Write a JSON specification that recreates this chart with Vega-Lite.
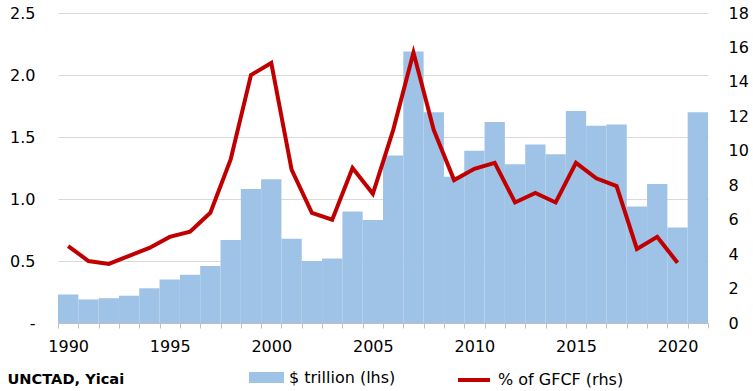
{
  "$schema": "https://vega.github.io/schema/vega-lite/v6.json",
  "width": 650,
  "height": 310,
  "padding": {"left": 7, "top": 5, "right": 5, "bottom": 0},
  "autosize": {"type": "pad"},
  "config": {"font": "DejaVu Sans", "view": {"stroke": null}},
  "data": {"values": [
    {"year": 1990, "value": 0.23, "pct": 4.47},
    {"year": 1991, "value": 0.19, "pct": 3.6},
    {"year": 1992, "value": 0.20, "pct": 3.43},
    {"year": 1993, "value": 0.22, "pct": 3.9},
    {"year": 1994, "value": 0.28, "pct": 4.36},
    {"year": 1995, "value": 0.35, "pct": 5.0},
    {"year": 1996, "value": 0.39, "pct": 5.3},
    {"year": 1997, "value": 0.46, "pct": 6.4},
    {"year": 1998, "value": 0.67, "pct": 9.5},
    {"year": 1999, "value": 1.08, "pct": 14.4},
    {"year": 2000, "value": 1.16, "pct": 15.1},
    {"year": 2001, "value": 0.68, "pct": 8.9},
    {"year": 2002, "value": 0.50, "pct": 6.4},
    {"year": 2003, "value": 0.52, "pct": 6.0},
    {"year": 2004, "value": 0.90, "pct": 9.0},
    {"year": 2005, "value": 0.83, "pct": 7.5},
    {"year": 2006, "value": 1.35, "pct": 11.2},
    {"year": 2007, "value": 2.19, "pct": 15.7},
    {"year": 2008, "value": 1.70, "pct": 11.2},
    {"year": 2009, "value": 1.18, "pct": 8.3},
    {"year": 2010, "value": 1.39, "pct": 8.95},
    {"year": 2011, "value": 1.62, "pct": 9.3},
    {"year": 2012, "value": 1.28, "pct": 7.0},
    {"year": 2013, "value": 1.44, "pct": 7.55},
    {"year": 2014, "value": 1.36, "pct": 7.0},
    {"year": 2015, "value": 1.71, "pct": 9.3},
    {"year": 2016, "value": 1.59, "pct": 8.4},
    {"year": 2017, "value": 1.60, "pct": 7.95},
    {"year": 2018, "value": 0.94, "pct": 4.3},
    {"year": 2019, "value": 1.12, "pct": 5.0},
    {"year": 2020, "value": 0.77, "pct": 3.5},
    {"year": 2021, "value": 1.70, "pct": null}
  ]},
  "layer": [
    {
      "mark": {"type": "bar"},
      "encoding": {
        "x": {"field": "year", "type": "ordinal", "scale": {"paddingInner": 0, "paddingOuter": 0},
          "axis": {"title": "UNCTAD, Yicai", "titleFontSize": 14.6, "titleFontWeight": "bold", "titleColor": "#000000", "titleAnchor": "start", "titleAlign": "left", "titleBaseline": "alphabetic", "titleX": -51, "titleY": 60,
            "labelAngle": 0, "labelFontSize": 16, "labelColor": "#000000", "labelExpr": "datum.value % 5 == 0 ? datum.label : ''", "tickBand": "extent", "domainColor": "#bfbfbf", "tickColor": "#bfbfbf", "tickSize": 5, "labelPadding": 10, "grid": false}},
        "y": {"field": "value", "type": "quantitative", "scale": {"domain": [0, 2.5]},
          "axis": {"title": null, "values": [0, 0.5, 1, 1.5, 2, 2.5], "labelExpr": "datum.value == 0 ? '-' : format(datum.value, '.1f')", "labelFontSize": 16, "labelColor": "#000000", "ticks": false, "domain": false, "labelPadding": 23, "gridColor": "#d9d9d9", "gridWidth": 1.2}},
        "fill": {"datum": "$ trillion (lhs)", "type": "nominal", "scale": {"range": ["#9fc3e7"]},
          "legend": {"title": null, "orient": "none", "legendX": 191, "legendY": 347, "padding": 0, "labelFontSize": 16, "labelColor": "#000000", "labelOffset": 5, "symbolType": "M-1,-0.31H1V0.31H-1Z", "symbolSize": 1225, "symbolStrokeWidth": 0}}
      }
    },
    {
      "mark": {"type": "line", "strokeWidth": 4, "color": "#c00000"},
      "encoding": {
        "x": {"field": "year", "type": "ordinal"},
        "y": {"field": "pct", "type": "quantitative", "scale": {"domain": [0, 18]},
          "axis": {"title": null, "orient": "right", "values": [0, 2, 4, 6, 8, 10, 12, 14, 16, 18], "labelFontSize": 16, "labelColor": "#000000", "ticks": false, "domain": false, "grid": false, "labelPadding": 20}},
        "stroke": {"datum": "% of GFCF (rhs)", "type": "nominal", "scale": {"range": ["#c00000"]},
          "legend": {"title": null, "orient": "none", "legendX": 398, "legendY": 349, "padding": 0, "labelFontSize": 16, "labelColor": "#000000", "labelOffset": 6, "symbolType": "stroke", "symbolSize": 1024, "symbolStrokeWidth": 4}}
      }
    }
  ],
  "resolve": {"scale": {"y": "independent"}}
}
